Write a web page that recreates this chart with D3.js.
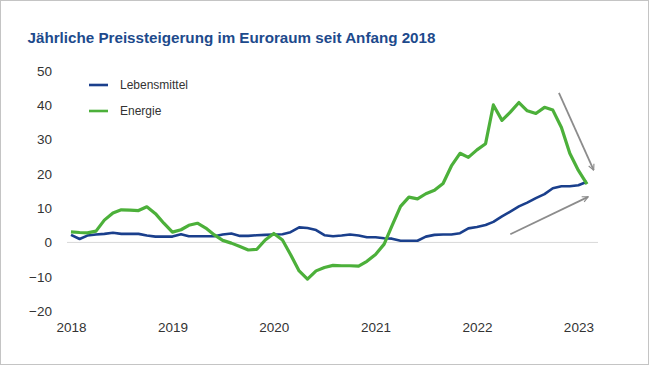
<!DOCTYPE html>
<html>
<head>
<meta charset="utf-8">
<script src="https://cdn.jsdelivr.net/npm/d3@7"></script>
<style>
	body { margin: 0; background: #fff; }
	text { font-family: "Liberation Sans", Arial, sans-serif; }
</style>
</head>
<body>
<div id="chart"></div>
<script>
// month categories, Jan 2018 to Feb 2023
const months = d3.timeMonth.range(new Date(2018, 0, 1), new Date(2023, 2, 1))

// annual price increase in %
const food = [
	2.2, 1.0, 2.0, 2.3, 2.5, 2.8, 2.5, 2.5, 2.5, 2.0, 1.7, 1.7,
	1.7, 2.4, 1.8, 1.8, 1.8, 1.8, 2.3, 2.6, 1.9, 1.9, 2.1, 2.2,
	2.3, 2.4, 3.0, 4.4, 4.2, 3.6, 2.1, 1.8, 2.0, 2.3, 2.0, 1.5,
	1.5, 1.2, 1.1, 0.5, 0.5, 0.5, 1.7, 2.2, 2.3, 2.3, 2.7, 4.1,
	4.5, 5.1, 6.0, 7.6, 9.0, 10.5, 11.6, 12.9, 14.1, 15.8, 16.4, 16.4,
	16.7, 17.7
]
const energy = [
	3.1, 2.9, 2.8, 3.3, 6.5, 8.6, 9.5, 9.4, 9.3, 10.4, 8.4, 5.6,
	3.0, 3.7, 5.0, 5.6, 4.2, 2.2, 0.6, -0.2, -1.2, -2.2, -2.0, 0.7,
	2.6, 0.7, -3.5, -8.3, -10.7, -8.3, -7.3, -6.7, -6.8, -6.8, -6.9, -5.5,
	-3.5, -0.5, 4.8, 10.5, 13.2, 12.7, 14.2, 15.2, 17.2, 22.3, 26.0, 24.8,
	27.0, 28.8, 40.1, 35.6, 38.0, 40.8, 38.4, 37.6, 39.4, 38.6, 33.5, 26.0,
	21.0, 17.0
]

const seriesNames = ["Lebensmittel", "Energie"]
const yTicks = [-20, -10, 0, 10, 20, 30, 40, 50]

// annotation arrows: [month index, value] start -> end
const arrows = [
	[[57.7, 43.6], [61.8, 21.1]],
	[[51.95, 2.4], [61.15, 13.3]]
]

const svgWidth = 650
const svgHeight = 366

const colors = { food: "#1a3f8c", energy: "#4cb03a", arrow: "#8c8c8c" }

let svg = d3
	.select("#chart")
	.append("svg")
	.attr("width", svgWidth)
	.attr("height", svgHeight)

// frame
svg.append("rect")
	.attr("x", 0.5)
	.attr("y", 0.5)
	.attr("width", svgWidth - 2)
	.attr("height", svgHeight - 2)
	.attr("fill", "#fff")
	.attr("stroke", "#c4c4c4")

// title
svg.append("text")
	.attr("x", 27.5)
	.attr("y", 42.5)
	.attr("fill", "#1d4a8c")
	.attr("font-size", "15.2px")
	.attr("font-weight", "bold")
	.text("Jährliche Preissteigerung im Euroraum seit Anfang 2018")

// scales
let x = d3.scaleTime()
	.domain([months[0], months[months.length - 1]])
	.range([71, 587])

let y = d3.scaleLinear()
	.domain([-20, 50])
	.range([311, 71])

// month index -> x position (for annotations)
const xIdx = i => x(d3.timeDay.offset(months[0], i * 30.4375))

// zero line
svg.append("line")
	.attr("x1", 67)
	.attr("x2", 598)
	.attr("y1", y(0))
	.attr("y2", y(0))
	.attr("stroke", "#d9d9d9")
	.attr("stroke-width", 1)

// y axis
let yAxis = svg.append("g")
	.attr("transform", "translate(58, 0)")
	.call(d3.axisLeft(y)
		.tickValues(yTicks)
		.tickSize(0)
		.tickPadding(6)
		.tickFormat(d => d < 0 ? "\u2212" + Math.abs(d) : d))
yAxis.select(".domain").remove()
yAxis.selectAll("text")
	.attr("font-size", "13.5px")
	.attr("font-family", "Liberation Sans, Arial, sans-serif")
	.attr("fill", "#333")

// x axis
let xAxis = svg.append("g")
	.attr("transform", "translate(0, 316)")
	.call(d3.axisBottom(x)
		.ticks(d3.timeYear)
		.tickSize(0)
		.tickPadding(6)
		.tickFormat(d3.timeFormat("%Y")))
xAxis.select(".domain").remove()
xAxis.selectAll("text")
	.attr("font-size", "13.5px")
	.attr("font-family", "Liberation Sans, Arial, sans-serif")
	.attr("fill", "#333")

// lines
let line = d3.line()
	.x((d, i) => x(months[i]))
	.y(d => y(d))

svg.append("path")
	.datum(food)
	.attr("d", line)
	.attr("fill", "none")
	.attr("stroke", colors.food)
	.attr("stroke-width", 2.6)
	.attr("stroke-linejoin", "round")

svg.append("path")
	.datum(energy)
	.attr("d", line)
	.attr("fill", "none")
	.attr("stroke", colors.energy)
	.attr("stroke-width", 3.2)
	.attr("stroke-linejoin", "round")

// arrows
svg.append("defs")
	.append("marker")
	.attr("id", "head")
	.attr("viewBox", "0 0 10 10")
	.attr("refX", 9)
	.attr("refY", 5)
	.attr("markerWidth", 4)
	.attr("markerHeight", 4)
	.attr("orient", "auto")
	.append("path")
	.attr("d", "M1,1 L9,5 L1,9")
	.attr("fill", "none")
	.attr("stroke", colors.arrow)
	.attr("stroke-width", 1.6)

svg.selectAll(".arrow")
	.data(arrows)
	.enter()
	.append("line")
	.classed("arrow", true)
	.attr("x1", d => xIdx(d[0][0]))
	.attr("y1", d => y(d[0][1]))
	.attr("x2", d => xIdx(d[1][0]))
	.attr("y2", d => y(d[1][1]))
	.attr("stroke", colors.arrow)
	.attr("stroke-width", 1.8)
	.attr("marker-end", "url(#head)")

// legend
let legend = svg.append("g")
	.attr("transform", "translate(89, 85)")

let legendItems = legend.selectAll("g")
	.data(seriesNames)
	.enter()
	.append("g")
	.attr("transform", (d, i) => `translate(0, ${i * 26})`)

legendItems.append("line")
	.attr("x1", 0)
	.attr("x2", 19)
	.attr("stroke", (d, i) => i === 0 ? colors.food : colors.energy)
	.attr("stroke-width", 2.6)

legendItems.append("text")
	.attr("x", 31)
	.attr("dy", "0.35em")
	.attr("font-size", "12px")
	.attr("fill", "#333")
	.text(d => d)
</script>
</body>
</html>
